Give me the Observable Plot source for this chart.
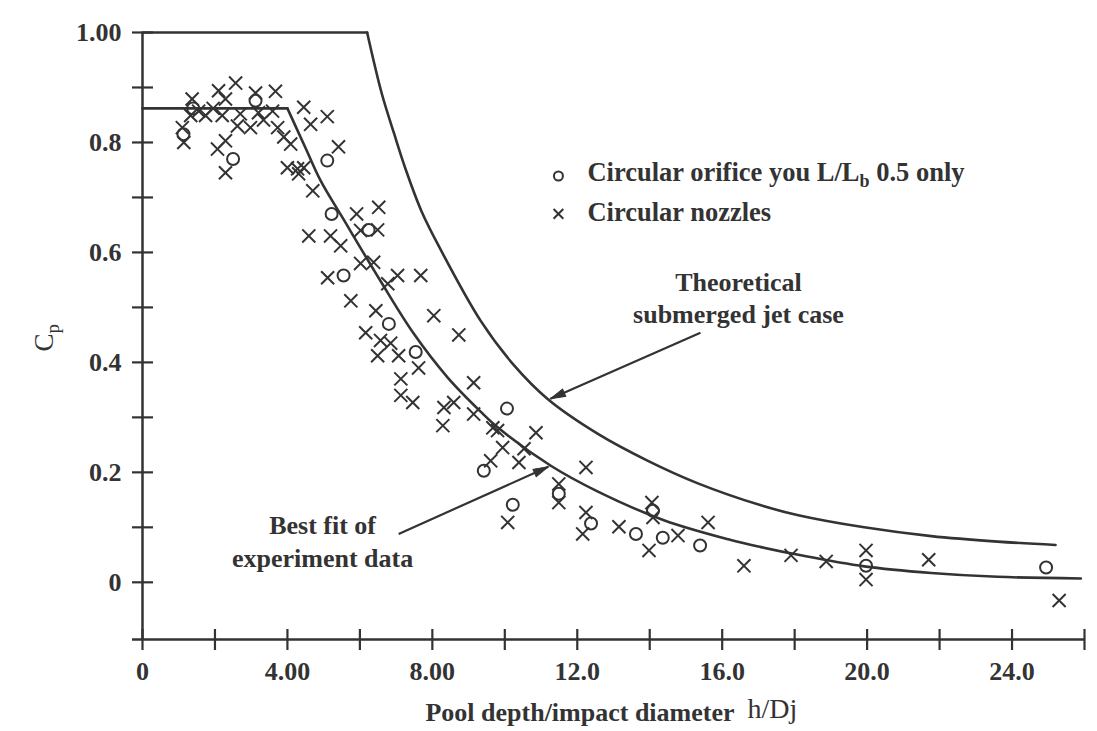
<!DOCTYPE html>
<html><head><meta charset="utf-8">
<script src="https://cdn.jsdelivr.net/npm/d3@7"></script>
<script src="https://cdn.jsdelivr.net/npm/@observablehq/plot@0.6"></script>
<style>
html,body{margin:0;padding:0;background:#fff;}
#chart svg{display:block;}
</style>
</head><body><div id="chart"></div>
<script>
// ---- data ----
const orificeX = [1.13, 1.40, 2.50, 3.12, 5.10, 5.22, 6.24, 5.55, 6.80, 7.54, 10.06, 9.42, 11.49, 10.22, 12.38, 13.62, 14.09, 14.36, 15.39, 19.97, 24.94];
const orificeY = [0.815, 0.862, 0.770, 0.876, 0.767, 0.670, 0.641, 0.558, 0.470, 0.419, 0.316, 0.203, 0.161, 0.141, 0.107, 0.088, 0.130, 0.081, 0.067, 0.030, 0.027];

const nozzleX = [1.10, 1.14, 1.37, 1.33, 1.55, 1.74, 1.95, 2.10, 2.57, 2.29, 2.20, 2.62, 2.29, 2.07, 2.29, 2.70, 2.98, 3.12, 3.20, 3.34, 3.59, 3.67, 3.73, 3.90, 4.09, 4.45, 4.00, 4.28, 4.45, 4.31, 4.70, 4.64, 5.10, 5.41, 5.91, 6.52,
  4.59, 5.19, 5.47, 6.02, 6.49, 6.02, 6.38, 5.11, 6.77, 7.04, 7.68, 5.75, 6.44, 8.04, 6.16, 6.57, 6.85, 6.49, 7.07, 7.62, 8.73, 7.13, 9.14, 7.13, 7.46, 8.32, 8.59, 9.14,
  8.29, 9.67, 9.80, 9.94, 10.86, 10.53, 10.39, 9.61, 12.24, 11.49, 11.49, 10.08, 12.24, 12.15, 13.15, 14.06, 14.09, 14.78, 13.98, 15.61, 16.60, 17.90, 18.87, 19.97, 19.97, 21.70, 25.30];
const nozzleY = [0.827, 0.800, 0.879, 0.849, 0.857, 0.849, 0.862, 0.894, 0.908, 0.879, 0.849, 0.830, 0.803, 0.788, 0.745, 0.852, 0.827, 0.890, 0.854, 0.841, 0.857, 0.893, 0.827, 0.810, 0.797, 0.864, 0.754, 0.752, 0.754, 0.743, 0.712, 0.833, 0.847, 0.792, 0.670, 0.682,
  0.630, 0.630, 0.612, 0.640, 0.641, 0.580, 0.582, 0.554, 0.543, 0.558, 0.558, 0.512, 0.494, 0.485, 0.454, 0.440, 0.435, 0.412, 0.412, 0.390, 0.450, 0.370, 0.363, 0.340, 0.327, 0.318, 0.327, 0.306,
  0.285, 0.281, 0.276, 0.245, 0.272, 0.243, 0.218, 0.221, 0.209, 0.179, 0.145, 0.109, 0.127, 0.088, 0.101, 0.145, 0.118, 0.085, 0.058, 0.109, 0.030, 0.049, 0.038, 0.058, 0.005, 0.041, -0.033];

// theoretical submerged jet case (plateau then decay)
const theoryX = [0, 6.20, 6.60, 6.95, 7.27, 7.70, 8.23, 9.34, 10.25, 11.19, 12.57, 13.95, 15.33, 17.07, 18.10, 19.92, 21.77, 23.60, 25.20];
const theoryY = [1.0, 1.0, 0.890, 0.815, 0.750, 0.675, 0.605, 0.475, 0.395, 0.333, 0.270, 0.221, 0.180, 0.140, 0.122, 0.100, 0.084, 0.074, 0.068];
// best fit of experiment data
const fitX = [0, 4.00, 4.50, 4.92, 5.55, 6.57, 7.49, 8.43, 9.34, 9.80, 11.27, 12.57, 14.39, 16.24, 17.07, 18.10, 19.92, 21.77, 23.60, 25.90];
const fitY = [0.862, 0.862, 0.790, 0.730, 0.660, 0.548, 0.452, 0.372, 0.310, 0.282, 0.212, 0.165, 0.113, 0.077, 0.064, 0.050, 0.029, 0.017, 0.010, 0.007];

const xTickValues = [0, 2, 4, 6, 8, 10, 12, 14, 16, 18, 20, 22, 24, 26];
const xLabelValues = [0, 4, 8, 12, 16, 20, 24];
const xLabelTexts = ["0", "4.00", "8.00", "12.0", "16.0", "20.0", "24.0"];
const yTickValues = [0, 0.1, 0.2, 0.3, 0.4, 0.5, 0.6, 0.7, 0.8, 0.9, 1.0];
const yLabelValues = [0, 0.2, 0.4, 0.6, 0.8, 1.0];
const yLabelTexts = ["0", "0.2", "0.4", "0.6", "0.8", "1.00"];

const legendTexts = ["Circular orifice you L/Lb 0.5 only", "Circular nozzles"];
const legendSymbols = ["circle", "times"];
const legendX = [11.48, 11.48];
const legendY = [0.739, 0.670];
const legendTextX = [12.28, 12.28];
const legendTextY = [0.745, 0.672];

const noteTexts = ["Theoretical", "submerged jet case", "Best fit of", "experiment data"];
const noteX = [16.45, 16.45, 4.97, 4.97];
const noteY = [0.545, 0.487, 0.103, 0.043];

const arrowX1 = [15.40, 7.07];
const arrowY1 = [0.454, 0.088];
const arrowX2 = [11.26, 11.20];
const arrowY2 = [0.334, 0.210];

const xTitle = "Pool depth/impact diameter";
const xTitle2 = "h/Dj";
const yTitle = "Cp";

// ---- layout ----
const W = 1097, H = 731;
const mL = 142, mR = 13, mT = 32, mB = 92;
const xDomain = [0, 26];
const yDomain = [-0.104, 1.0];
const kx = (W - mL - mR) / (xDomain[1] - xDomain[0]);
const ky = (H - mT - mB) / (yDomain[1] - yDomain[0]);
const INK = "#333";
const FONT = "'Liberation Serif', 'Times New Roman', serif";
const FS = 26;

const rows = (xs, ys) => xs.map((x, i) => ({x, y: ys[i]}));
const orifice = rows(orificeX, orificeY);
const nozzle = rows(nozzleX, nozzleY);
const theoryPlateau = rows(theoryX.slice(0, 2), theoryY.slice(0, 2));
const theoryDecay = rows(theoryX.slice(1), theoryY.slice(1));
const fitPlateau = rows(fitX.slice(0, 2), fitY.slice(0, 2));
const fitDecay = rows(fitX.slice(1), fitY.slice(1));

const vTick = {draw(ctx) { ctx.moveTo(0, -10.5); ctx.lineTo(0, 10.5); }};
const hTick = {draw(ctx) { ctx.moveTo(-10.5, 0); ctx.lineTo(10.5, 0); }};
const head = {draw(ctx) { ctx.moveTo(0, 0); ctx.lineTo(-4, 15); ctx.lineTo(4, 15); ctx.closePath(); }};

const arrows = arrowX1.map((x1, i) => {
  const dxp = (arrowX2[i] - x1) * kx;
  const dyp = -(arrowY2[i] - arrowY1[i]) * ky;
  return {x1, y1: arrowY1[i], x2: arrowX2[i], y2: arrowY2[i], angle: Math.atan2(dxp, -dyp) * 180 / Math.PI};
});

const legend = legendTexts.map((t, i) => ({t, sym: legendSymbols[i], x: legendX[i], y: legendY[i], tx: legendTextX[i], ty: legendTextY[i]}));
const notes = noteTexts.map((t, i) => ({t, x: noteX[i], y: noteY[i]}));

const plot = Plot.plot({
  width: W, height: H,
  marginLeft: mL, marginRight: mR, marginTop: mT, marginBottom: mB,
  x: {domain: xDomain, axis: null},
  y: {domain: yDomain, axis: null},
  style: {background: "#fff", fontFamily: FONT, color: INK},
  marks: [
    // axes
    Plot.ruleY([yDomain[0]], {x1: xDomain[0] - 10 / kx, x2: xDomain[1], stroke: INK, strokeWidth: 2.5}),
    Plot.ruleX([xDomain[0]], {y1: yDomain[0], y2: yDomain[1], stroke: INK, strokeWidth: 2.5}),
    Plot.dot(xTickValues, {x: d => d, y: yDomain[0], symbol: vTick, fill: "none", stroke: INK, strokeWidth: 2.2, r: 5}),
    Plot.dot(yTickValues, {x: xDomain[0], y: d => d, symbol: hTick, fill: "none", stroke: INK, strokeWidth: 2.2, r: 5}),
    Plot.text(xLabelValues, {x: d => d, y: yDomain[0], text: (d, i) => xLabelTexts[i], dy: 32, lineAnchor: "middle", textAnchor: "middle", fontSize: FS, fontWeight: "bold", fill: INK}),
    Plot.text(yLabelValues, {x: xDomain[0], y: d => d, text: (d, i) => yLabelTexts[i], dx: -21, lineAnchor: "middle", textAnchor: "end", fontSize: FS, fontWeight: "bold", fill: INK}),
    // curves
    Plot.line(theoryPlateau, {x: "x", y: "y", stroke: INK, strokeWidth: 2.6}),
    Plot.line(theoryDecay, {x: "x", y: "y", curve: "catmull-rom", stroke: INK, strokeWidth: 2.6}),
    Plot.line(fitPlateau, {x: "x", y: "y", stroke: INK, strokeWidth: 2.6}),
    Plot.line(fitDecay, {x: "x", y: "y", curve: "catmull-rom", stroke: INK, strokeWidth: 2.6}),
    // data
    Plot.dot(nozzle, {x: "x", y: "y", symbol: "times", r: 6, stroke: INK, strokeWidth: 2}),
    Plot.dot(orifice, {x: "x", y: "y", symbol: "circle", r: 6, fill: "none", stroke: INK, strokeWidth: 2}),
    // annotation arrows
    Plot.link(arrows, {x1: "x1", y1: "y1", x2: "x2", y2: "y2", stroke: INK, strokeWidth: 2.2}),
    Plot.dot(arrows, {x: "x2", y: "y2", symbol: head, rotate: "angle", fill: INK, stroke: INK, strokeWidth: 1, r: 5}),
    Plot.text(notes, {x: "x", y: "y", text: "t", lineAnchor: "middle", textAnchor: "middle", fontSize: FS, fontWeight: "bold", fill: INK}),
    // legend
    Plot.dot(legend, {x: "x", y: "y", symbol: "sym", r: 4.5, fill: "none", stroke: INK, strokeWidth: 2}),
    Plot.text(legend, {x: "tx", y: "ty", text: "t", lineAnchor: "middle", textAnchor: "start", fontSize: 26.5, fontWeight: "bold", fill: INK}),
    // axis titles
    Plot.text([xTitle], {x: 7.81, y: -0.237, text: d => d, lineAnchor: "middle", textAnchor: "start", fontSize: FS, fontWeight: "bold", fill: INK}),
    Plot.text([xTitle2], {x: 16.70, y: -0.230, text: d => d, lineAnchor: "middle", textAnchor: "start", fontSize: 28, fill: INK}),
    Plot.text([yTitle], {x: -2.70, y: 0.445, text: d => d, rotate: -90, lineAnchor: "middle", textAnchor: "middle", fontSize: 27, fill: INK})
  ]
});

// subscripts
plot.querySelectorAll("text").forEach(el => {
  const s = el.textContent;
  const sub = (before, subText, after, size, shift) => {
    el.textContent = "";
    const NS = "http://www.w3.org/2000/svg";
    const a = document.createElementNS(NS, "tspan"); a.textContent = before; el.appendChild(a);
    const b = document.createElementNS(NS, "tspan"); b.textContent = subText;
    b.setAttribute("font-size", size); b.setAttribute("dy", shift); el.appendChild(b);
    if (after) {
      const c = document.createElementNS(NS, "tspan"); c.textContent = after;
      c.setAttribute("dy", -shift); el.appendChild(c);
    }
  };
  if (s === legendTexts[0]) sub("Circular orifice you L/L", "b", " 0.5 only", 18, 6);
  else if (s === yTitle) sub("C", "p", "", 19, 6);
});

document.getElementById("chart").appendChild(plot);
</script>
</body></html>
